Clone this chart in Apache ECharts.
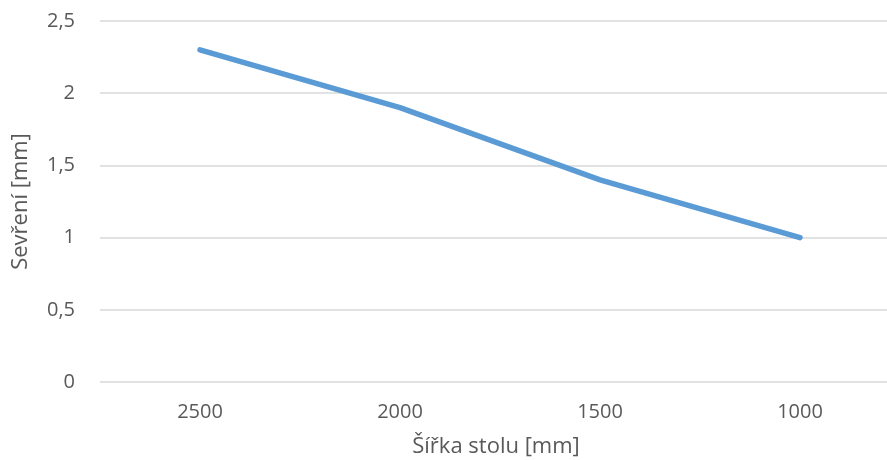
<!DOCTYPE html>
<html>
<head>
<meta charset="utf-8">
<script src="https://cdn.jsdelivr.net/npm/echarts@6/dist/echarts.min.js"></script>
<style>
    html, body { margin: 0; padding: 0; background: #fff; }
    #chart { width: 887px; height: 460px; }
</style>
</head>
<body>
<div id="chart"></div>
<script>
    // data
    var categories = ['2500', '2000', '1500', '1000'];
    var sevreni = [2.3, 1.9, 1.4, 1.0];
    var yMin = 0, yMax = 2.5, yStep = 0.5;

    var chart = echarts.init(document.getElementById('chart'));
    var option = {
        animation: false,
        textStyle: { fontFamily: 'Open Sans' },
        // plot area runs a bit past the right edge, as in the original crop
        grid: { left: 100, width: 800, top: 21, bottom: 78, outerBoundsMode: 'none', containLabel: false },
        xAxis: {
            type: 'category',
            data: categories,
            boundaryGap: true,
            name: 'Šířka stolu [mm]',
            nameLocation: 'middle',
            nameGap: 54,
            nameTextStyle: { fontSize: 22, color: '#595959', padding: [0, 8, 0, 0] },
            axisLine: { show: false },
            axisTick: { show: false },
            axisLabel: { fontSize: 20, color: '#595959', margin: 20 }
        },
        yAxis: {
            type: 'value',
            min: yMin,
            max: yMax,
            interval: yStep,
            name: 'Sevření [mm]',
            nameLocation: 'middle',
            nameGap: 68,
            nameTextStyle: { fontSize: 22, color: '#595959' },
            axisLine: { show: false },
            axisTick: { show: false },
            axisLabel: {
                fontSize: 20,
                color: '#595959',
                margin: 25,
                formatter: function (v) { return String(v).replace('.', ','); }
            },
            splitLine: { lineStyle: { color: '#d9d9d9', width: 1.5 } }
        },
        series: [
            {
                name: 'Sevření',
                type: 'line',
                data: sevreni,
                symbol: 'none',
                lineStyle: { color: '#5b9bd5', width: 5.5, cap: 'round', join: 'round' }
            }
        ]
    };
    chart.setOption(option);
</script>
</body>
</html>
